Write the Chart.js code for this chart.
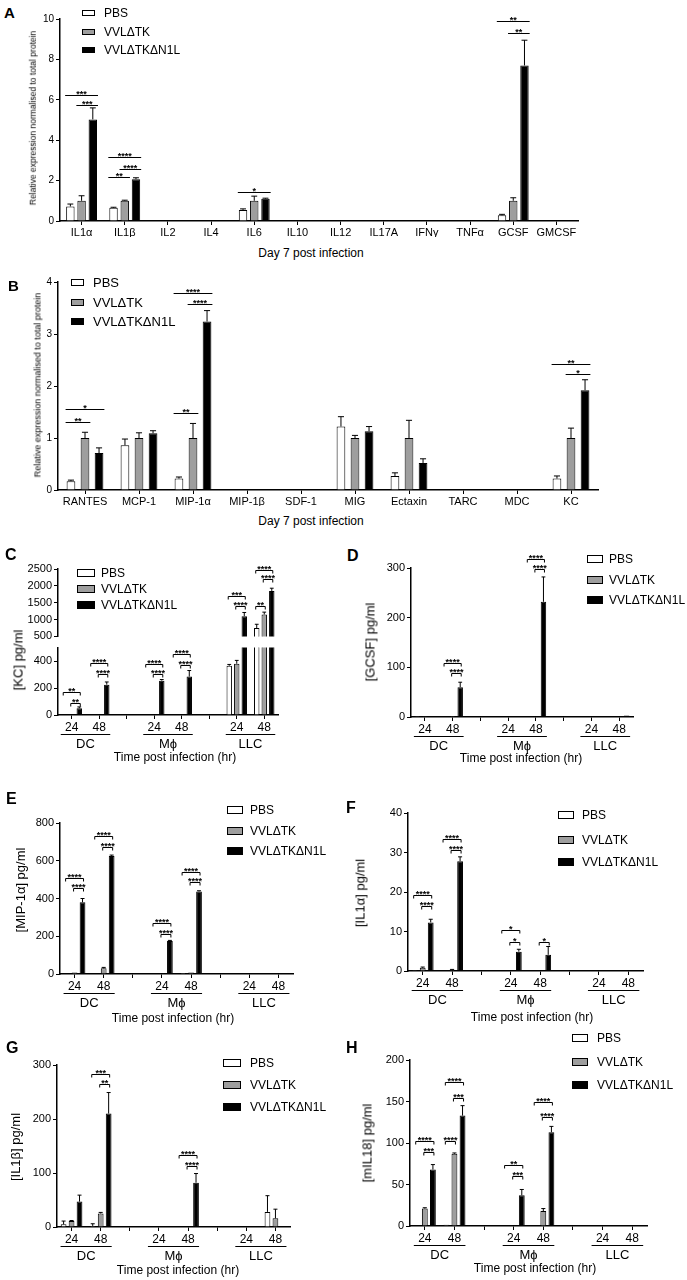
<!DOCTYPE html>
<html>
<head>
<meta charset="utf-8">
<script src="https://cdn.jsdelivr.net/npm/chart.js@4.4.1/dist/chart.umd.min.js"></script>
<style>
    body { margin: 0; background: #fff; font-family: Arial, "Liberation Sans", sans-serif; }
    #fig { position: relative; width: 687px; height: 1280px; overflow: hidden; background: #fff; }
    #fig canvas { position: absolute; }
    .t { position: absolute; white-space: nowrap; color: #000; line-height: 1; }
    .sw { position: absolute; border: 1px solid #000; box-sizing: border-box; }
</style>
</head>
<body>
<div id="fig"></div>
<script>
// Series shared by every panel
const seriesNames = ['PBS', 'VVLΔTK', 'VVLΔTKΔN1L'];
const seriesFill = ['#ffffff', '#9e9e9e', '#000000'];

// Panel A - cytokines, day 7
const cytokinesA = ['IL1α', 'IL1β', 'IL2', 'IL4', 'IL6', 'IL10', 'IL12', 'IL17A', 'IFNγ', 'TNFα', 'GCSF', 'GMCSF'];
const pbsA = [0.72, 0.65, 0, 0, 0.55, 0, 0, 0, 0, 0, 0.28, 0];
const pbsErrA = [0.12, 0.03, 0, 0, 0.05, 0, 0, 0, 0, 0, 0.05, 0];
const tkA = [1.0, 1.0, 0, 0, 1.0, 0, 0, 0, 0, 0, 1.0, 0];
const tkErrA = [0.25, 0.03, 0, 0, 0.23, 0, 0, 0, 0, 0, 0.15, 0];
const n1lA = [5.03, 2.07, 0, 0, 1.1, 0, 0, 0, 0, 0, 7.7, 0];
const n1lErrA = [0.57, 0.07, 0, 0, 0.03, 0, 0, 0, 0, 0, 1.25, 0];
// [category, from series, to series, height, stars]
const sigA = [[0, 0, 2, 6.25, '***'], [0, 1, 2, 5.75, '***'], [1, 0, 2, 3.18, '****'], [1, 1, 2, 2.57, '****'],
    [1, 0, 1, 2.2, '**'], [4, 0, 2, 1.45, '*'], [10, 0, 2, 9.88, '**'], [10, 1, 2, 9.3, '**']];

// Panel B - chemokines, day 7
const chemokinesB = ['RANTES', 'MCP-1', 'MIP-1α', 'MIP-1β', 'SDF-1', 'MIG', 'Ectaxin', 'TARC', 'MDC', 'KC'];
const pbsB = [0.17, 0.86, 0.22, 0, 0, 1.22, 0.27, 0, 0, 0.22];
const pbsErrB = [0.02, 0.12, 0.03, 0, 0, 0.19, 0.06, 0, 0, 0.05];
const tkB = [1.0, 1.0, 1.0, 0, 0, 1.0, 1.0, 0, 0, 1.0];
const tkErrB = [0.11, 0.1, 0.28, 0, 0, 0.05, 0.34, 0, 0, 0.19];
const n1lB = [0.71, 1.09, 3.24, 0, 0, 1.13, 0.52, 0, 0, 1.92];
const n1lErrB = [0.1, 0.05, 0.21, 0, 0, 0.09, 0.08, 0, 0, 0.2];
const sigB = [[0, 0, 2, 1.55, '*'], [0, 0, 1, 1.3, '**'], [2, 0, 1, 1.48, '**'], [2, 0, 2, 3.79, '****'],
    [2, 1, 2, 3.58, '****'], [9, 0, 2, 2.42, '**'], [9, 1, 2, 2.23, '*']];

// Time course panels (C-H): 24/48 h per cell type, blank slots separate the cell types
const timeLabels = ['24', '48', '', '24', '48', '', '24', '48'];
const cellGroups = [['DC', 0, 1], ['Mϕ', 3, 4], ['LLC', 6, 7]];

// C - KC
const pbsC = [0, 0, null, 0, 0, null, 365, 750];
const pbsErrC = [0, 0, null, 0, 0, null, 10, 110];
const tkC = [2, 0, null, 5, 0, null, 380, 1150];
const tkErrC = [0, 0, null, 0, 0, null, 25, 70];
const n1lC = [50, 225, null, 255, 285, null, 1100, 1850];
const n1lErrC = [10, 20, null, 8, 45, null, 110, 80];
const sigC = [[0, 0, 2, 170, '**'], [0, 1, 2, 90, '**'], [1, 0, 2, 383, '****'], [1, 1, 2, 305, '****'],
    [3, 0, 2, 378, '****'], [3, 1, 2, 305, '****'], [4, 0, 2, 450, '****'], [4, 1, 2, 373, '****'],
    [6, 0, 2, 1710, '***'], [6, 1, 2, 1390, '****'], [7, 0, 1, 1390, '**'], [7, 0, 2, 2460, '****'], [7, 1, 2, 2200, '****']];

// D - GCSF
const pbsD = [0.5, 0, null, 0, 0, null, 0, 0];
const tkD = [0.5, 2, null, 0, 0, null, 0, 0];
const n1lD = [1, 60, null, 0, 232, null, 0, 3];
const n1lErrD = [0, 10, null, 0, 50, null, 0, 0];
const sigD = [[1, 0, 2, 108, '****'], [1, 1, 2, 88, '****'], [4, 0, 2, 318, '****'], [4, 1, 2, 298, '****']];

// E - MIP-1a
const pbsE = [0, 0, null, 2, 5, null, 0, 0];
const tkE = [8, 30, null, 0, 8, null, 0, 0];
const tkErrE = [0, 5, null, 0, 0, null, 0, 0];
const n1lE = [380, 625, null, 175, 437, null, 0, 0];
const n1lErrE = [20, 5, null, 3, 4, null, 0, 0];
const sigE = [[0, 0, 2, 506, '****'], [0, 1, 2, 453, '****'], [1, 0, 2, 730, '****'], [1, 1, 2, 673, '****'],
    [3, 0, 2, 269, '****'], [3, 1, 2, 213, '****'], [4, 0, 2, 541, '****'], [4, 1, 2, 489, '****']];

// F - IL1a
const pbsF = [0.2, 0, null, 0, 0, null, 0, 0];
const tkF = [0.8, 0.3, null, 0, 0, null, 0, 0];
const tkErrF = [0.2, 0.1, null, 0, 0, null, 0, 0];
const n1lF = [12.3, 27.8, null, 4.9, 4.1, null, 0, 0];
const n1lErrF = [0.8, 1.1, null, 0.6, 2.1, null, 0, 0];
const sigF = [[0, 0, 2, 19.3, '****'], [0, 1, 2, 16.5, '****'], [1, 0, 2, 33.4, '****'], [1, 1, 2, 30.7, '****'],
    [3, 0, 2, 10.4, '*'], [3, 1, 2, 7.4, '*'], [4, 1, 2, 7.4, '*']];

// G - IL1b
const pbsG = [5, 2, null, 0, 0, null, 0, 28];
const pbsErrG = [6, 4, null, 0, 0, null, 0, 30];
const tkG = [11, 25, null, 0, 0, null, 0, 16];
const tkErrG = [1, 2, null, 0, 0, null, 0, 17];
const n1lG = [47, 210, null, 0, 82, null, 0, 0];
const n1lErrG = [12, 39, null, 0, 17, null, 0, 0];
const sigG = [[1, 0, 2, 284, '***'], [1, 1, 2, 265, '**'], [4, 0, 2, 133, '****'], [4, 1, 2, 113, '****']];

// H - mIL18
const pbsH = [0, 1.5, null, 0, 0, null, 0, 0];
const tkH = [21, 87, null, 0.5, 18, null, 0, 0];
const tkErrH = [1, 1, null, 0, 3, null, 0, 0];
const n1lH = [68, 133, null, 37, 113, null, 0, 0];
const n1lErrH = [6, 12, null, 7, 7, null, 0, 0];
const sigH = [[0, 0, 2, 102.6, '****'], [0, 1, 2, 89, '***'], [1, 0, 1, 102.6, '****'], [1, 0, 2, 173.8, '****'],
    [1, 1, 2, 153.7, '***'], [3, 0, 2, 73, '**'], [3, 1, 2, 60, '***'], [4, 0, 2, 149.7, '****'], [4, 1, 2, 130.8, '****']];

const zeros8 = [0, 0, null, 0, 0, null, 0, 0];

Chart.defaults.font.family = 'Arial, "Liberation Sans", sans-serif';
Chart.defaults.color = '#000';
Chart.defaults.animation = false;

const fig = document.getElementById('fig');

// upper-only error bars, drawn from each bar's top
const errorBars = {
    id: 'errorBars',
    afterDatasetsDraw(chart) {
        const ctx = chart.ctx;
        const y = chart.scales.y;
        ctx.save();
        ctx.strokeStyle = '#000';
        ctx.lineWidth = 1;
        chart.data.datasets.forEach((ds, di) => {
            if (!ds.errs) return;
            const meta = chart.getDatasetMeta(di);
            ds.data.forEach((v, i) => {
                const e = ds.errs[i];
                if (v == null || !e || v < y.min || v > y.max) return;
                const bar = meta.data[i];
                const top = y.getPixelForValue(v + e);
                const half = Math.max(1.5, bar.width * 0.35);
                ctx.beginPath();
                ctx.moveTo(bar.x, bar.y);
                ctx.lineTo(bar.x, top);
                ctx.moveTo(bar.x - half, top);
                ctx.lineTo(bar.x + half, top);
                ctx.stroke();
            });
        });
        ctx.restore();
    }
};

// significance lines / brackets with stars
const sigMarks = {
    id: 'sig',
    afterDraw(chart, args, opts) {
        if (!opts.items || !opts.items.length) return;
        const ctx = chart.ctx;
        const y = chart.scales.y;
        ctx.save();
        ctx.strokeStyle = '#000';
        ctx.fillStyle = '#000';
        ctx.lineWidth = 1;
        ctx.font = 'bold 9px Arial, "Liberation Sans", sans-serif';
        ctx.textAlign = 'center';
        ctx.textBaseline = 'alphabetic';
        opts.items.forEach(([i, a, b, v, stars]) => {
            const ba = chart.getDatasetMeta(a).data[i];
            const bb = chart.getDatasetMeta(b).data[i];
            const py = Math.round(y.getPixelForValue(v)) + 0.5;
            let x0, x1;
            ctx.beginPath();
            if (opts.bracket) {
                x0 = ba.x - 1;
                x1 = bb.x + 1;
                ctx.moveTo(x0, py + 3);
                ctx.lineTo(x0, py);
                ctx.lineTo(x1, py);
                ctx.lineTo(x1, py + 3);
            } else {
                x0 = ba.x - ba.width / 2 - 1;
                x1 = bb.x + bb.width / 2 + 1;
                ctx.moveTo(x0, py);
                ctx.lineTo(x1, py);
            }
            ctx.stroke();
            ctx.fillText(stars, (x0 + x1) / 2, py + 1);
        });
        ctx.restore();
    }
};

// cell type labels under the 24/48 ticks
const cellLabels = {
    id: 'groups',
    afterDraw(chart, args, opts) {
        if (!opts.items) return;
        const ctx = chart.ctx;
        const x = chart.scales.x;
        const bottom = chart.chartArea.bottom;
        ctx.save();
        ctx.strokeStyle = '#000';
        ctx.fillStyle = '#000';
        ctx.lineWidth = 1;
        ctx.font = '13px Arial, "Liberation Sans", sans-serif';
        ctx.textAlign = 'center';
        ctx.textBaseline = 'middle';
        opts.items.forEach(([name, i0, i1]) => {
            const x0 = x.getPixelForValue(i0) - 11;
            const x1 = x.getPixelForValue(i1) + 11;
            ctx.beginPath();
            ctx.moveTo(x0, bottom + 19.5);
            ctx.lineTo(x1, bottom + 19.5);
            ctx.stroke();
            ctx.fillText(name, (x0 + x1) / 2, bottom + 29);
        });
        ctx.restore();
    }
};

function makeChart(p) {
    const yAxisW = 44;
    const padTop = p.padTop !== undefined ? p.padTop : 34;
    const padRight = 14;
    const xH = p.showX ? 16 : 0;
    const padBottom = p.showX ? (p.groups ? 28 : 4) : 8;
    const [l, t, r, b] = p.box;
    const left = l - yAxisW, top = t - padTop;
    const cv = document.createElement('canvas');
    cv.width = r - left + padRight;
    cv.height = b - top + xH + padBottom;
    cv.style.left = left + 'px';
    cv.style.top = top + 'px';
    fig.appendChild(cv);

    const datasets = p.series.map((s, i) => ({
        label: seriesNames[i],
        data: s[0],
        errs: s[1],
        backgroundColor: seriesFill[i],
        borderColor: '#000',
        borderWidth: 1,
        categoryPercentage: p.catPct,
        barPercentage: p.barPct,
        clip: 0
    }));

    return new Chart(cv, {
        type: 'bar',
        data: { labels: p.labels, datasets: datasets },
        options: {
            responsive: false,
            layout: { padding: { top: padTop, right: padRight, bottom: padBottom, left: 0 } },
            plugins: {
                legend: { display: false },
                tooltip: { enabled: false },
                sig: { items: p.sig || [], bracket: p.bracket },
                groups: { items: p.groups }
            },
            scales: {
                x: {
                    display: p.showX,
                    offset: true,
                    grid: { offset: false, drawOnChartArea: false, tickLength: 4, color: '#000' },
                    border: { color: '#000', width: 1.5 },
                    ticks: { font: { size: p.xFont || 12 }, color: '#000', padding: 1, maxRotation: 0, autoSkip: false },
                    afterFit(s) { s.height = xH; }
                },
                y: {
                    min: p.yMin,
                    max: p.yMax,
                    ticks: {
                        stepSize: p.step, font: { size: p.yFont || 11 }, color: '#000', padding: 2,
                        format: { useGrouping: false }
                    },
                    grid: { drawOnChartArea: false, tickLength: 4, color: '#000' },
                    border: { color: '#000', width: 1.5 },
                    afterFit(s) { s.width = yAxisW; }
                }
            }
        },
        plugins: [errorBars, sigMarks, cellLabels]
    });
}

function addText(txt, x, y, size, opts) {
    opts = opts || {};
    const d = document.createElement('div');
    d.className = 't';
    d.textContent = txt;
    d.style.left = x + 'px';
    d.style.top = y + 'px';
    d.style.fontSize = size + 'px';
    if (opts.bold) d.style.fontWeight = 'bold';
    if (opts.center) d.style.transform = 'translate(-50%, -50%)';
    if (opts.rotate) d.style.transform = 'translate(-50%, -50%) rotate(-90deg)';
    fig.appendChild(d);
}

function addLegend(x, rows, swW, swH, textX, size) {
    rows.forEach((ry, i) => {
        const s = document.createElement('div');
        s.className = 'sw';
        s.style.left = x + 'px';
        s.style.top = (ry - swH / 2) + 'px';
        s.style.width = swW + 'px';
        s.style.height = swH + 'px';
        s.style.background = seriesFill[i];
        fig.appendChild(s);
        addText(seriesNames[i], textX, ry - size * 0.5, size);
    });
}

// ---- Panel A ----
makeChart({
    box: [60, 19, 578, 221], labels: cytokinesA,
    series: [[pbsA, pbsErrA], [tkA, tkErrA], [n1lA, n1lErrA]],
    yMin: 0, yMax: 10, step: 2, sig: sigA, bracket: false, showX: true,
    catPct: 0.78, barPct: 0.75, xFont: 11, yFont: 10
});
addText('A', 4, 5, 15, { bold: true });
addLegend(82, [13, 32, 50], 13, 6, 104, 12);
addText('Relative expression normalised to total protein', 33, 118, 8.5, { rotate: true });
addText('Day 7 post infection', 311, 253, 12, { center: true });

// ---- Panel B ----
makeChart({
    box: [58, 282, 598, 490], labels: chemokinesB,
    series: [[pbsB, pbsErrB], [tkB, tkErrB], [n1lB, n1lErrB]],
    yMin: 0, yMax: 4, step: 1, sig: sigB, bracket: false, showX: true,
    catPct: 0.78, barPct: 0.62, xFont: 11, yFont: 10
});
addText('B', 8, 278, 15, { bold: true });
addLegend(71, [282, 302, 321], 13, 7, 93, 13);
addText('Relative expression normalised to total protein', 38, 385, 9, { rotate: true });
addText('Day 7 post infection', 311, 521, 12, { center: true });

// ---- Panel C (broken y axis: two stacked charts) ----
const seriesC = [[pbsC, pbsErrC], [tkC, tkErrC], [n1lC, n1lErrC]];
makeChart({
    box: [58, 569, 278, 637], labels: timeLabels, series: seriesC,
    yMin: 500, yMax: 2500, step: 500, sig: sigC.filter(s => s[3] > 500), bracket: true, showX: false,
    catPct: 0.82, barPct: 0.72
});
makeChart({
    box: [58, 647, 278, 715], labels: timeLabels, series: seriesC, padTop: 8,
    yMin: 0, yMax: 500, step: 100, sig: sigC.filter(s => s[3] <= 500), bracket: true, showX: true,
    groups: cellGroups, catPct: 0.82, barPct: 0.72
});
addText('C', 5, 547, 16, { bold: true });
addLegend(77, [573, 589, 605], 18, 8, 101, 12);
addText('[KC] pg/ml', 18, 660, 13, { rotate: true });
addText('Time post infection (hr)', 175, 757, 12, { center: true });

// ---- Panel D ----
makeChart({
    box: [411, 568, 633, 717], labels: timeLabels,
    series: [[pbsD, zeros8], [tkD, zeros8], [n1lD, n1lErrD]],
    yMin: 0, yMax: 300, step: 100, sig: sigD, bracket: true, showX: true,
    groups: cellGroups, catPct: 0.82, barPct: 0.72
});
addText('D', 347, 548, 16, { bold: true });
addLegend(587, [559, 580, 600], 16, 8, 609, 12);
addText('[GCSF] pg/ml', 370, 642, 13, { rotate: true });
addText('Time post infection (hr)', 521, 758, 12, { center: true });

// ---- Panel E ----
makeChart({
    box: [60, 823, 293, 974], labels: timeLabels,
    series: [[pbsE, zeros8], [tkE, tkErrE], [n1lE, n1lErrE]],
    yMin: 0, yMax: 800, step: 200, sig: sigE, bracket: true, showX: true,
    groups: cellGroups, catPct: 0.82, barPct: 0.72
});
addText('E', 6, 791, 16, { bold: true });
addLegend(227, [810, 831, 851], 16, 8, 250, 12);
addText('[MIP-1α] pg/ml', 20, 890, 13, { rotate: true });
addText('Time post infection (hr)', 173, 1018, 12, { center: true });

// ---- Panel F ----
makeChart({
    box: [408, 813, 643, 971], labels: timeLabels,
    series: [[pbsF, zeros8], [tkF, tkErrF], [n1lF, n1lErrF]],
    yMin: 0, yMax: 40, step: 10, sig: sigF, bracket: true, showX: true,
    groups: cellGroups, catPct: 0.82, barPct: 0.72
});
addText('F', 346, 800, 16, { bold: true });
addLegend(558, [815, 840, 862], 16, 8, 582, 12);
addText('[IL1α] pg/ml', 360, 893, 13, { rotate: true });
addText('Time post infection (hr)', 532, 1017, 12, { center: true });

// ---- Panel G ----
makeChart({
    box: [57, 1065, 290, 1227], labels: timeLabels,
    series: [[pbsG, pbsErrG], [tkG, tkErrG], [n1lG, n1lErrG]],
    yMin: 0, yMax: 300, step: 100, sig: sigG, bracket: true, showX: true,
    groups: cellGroups, catPct: 0.82, barPct: 0.72
});
addText('G', 6, 1040, 16, { bold: true });
addLegend(223, [1063, 1085, 1107], 18, 8, 250, 12);
addText('[IL1β] pg/ml', 15, 1147, 13, { rotate: true });
addText('Time post infection (hr)', 178, 1270, 12, { center: true });

// ---- Panel H ----
makeChart({
    box: [410, 1060, 647, 1226], labels: timeLabels,
    series: [[pbsH, zeros8], [tkH, tkErrH], [n1lH, n1lErrH]],
    yMin: 0, yMax: 200, step: 50, sig: sigH, bracket: true, showX: true,
    groups: cellGroups, catPct: 0.82, barPct: 0.72
});
addText('H', 346, 1040, 16, { bold: true });
addLegend(572, [1038, 1062, 1085], 16, 8, 597, 12);
addText('[mIL18] pg/ml', 367, 1143, 13, { rotate: true });
addText('Time post infection (hr)', 535, 1268, 12, { center: true });
</script>
</body>
</html>
